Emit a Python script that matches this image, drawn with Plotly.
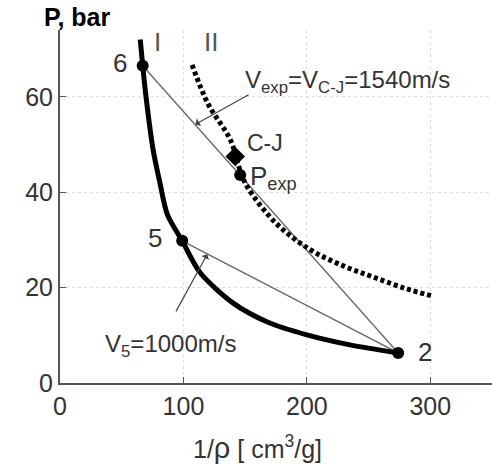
import plotly.graph_objects as go

# Curve I (solid isentrope)
curve1_v = [65, 67, 70, 75.5, 81, 87, 99, 113.6, 140, 168, 200, 235, 274]
curve1_p = [72, 66.5, 59.3, 48.8, 41.9, 35.3, 29.8, 23.1, 16.8, 12.8, 10.1, 8.0, 6.3]
# Curve II (dotted)
curve2_v = [107, 120, 138, 146, 152, 175, 203, 230, 254, 280, 302]
curve2_p = [66.7, 58.5, 51, 44.5, 41, 33.5, 27.9, 24.5, 22.2, 19.8, 18.2]
# States
pt_labels = ["6", "5", "2"]
pt_v = [67, 99, 274]
pt_p = [66.5, 29.8, 6.3]
cj_v, cj_p = [142], [47.5]
pexp_v, pexp_p = [146], [43.6]

x_ticks = [0, 100, 200, 300]
y_ticks = [0, 20, 40, 60]

FONT = "Liberation Sans, Arial, sans-serif"

fig = go.Figure()
# Rayleigh lines
fig.add_trace(go.Scatter(x=[pt_v[0], pt_v[2]], y=[pt_p[0], pt_p[2]], mode="lines",
                         line=dict(color="#666", width=1.3), showlegend=False))
fig.add_trace(go.Scatter(x=[pt_v[1], pt_v[2]], y=[pt_p[1], pt_p[2]], mode="lines",
                         line=dict(color="#666", width=1.3), showlegend=False))
fig.add_trace(go.Scatter(x=curve2_v, y=curve2_p, mode="lines", line_shape="spline",
                         line=dict(color="black", width=5, dash="4px,3px"), showlegend=False))
fig.add_trace(go.Scatter(x=curve1_v, y=curve1_p, mode="lines", line_shape="spline",
                         line=dict(color="black", width=5, smoothing=0.8), showlegend=False))
fig.add_trace(go.Scatter(x=pt_v, y=pt_p, mode="markers",
                         marker=dict(color="black", size=12), showlegend=False))
fig.add_trace(go.Scatter(x=cj_v, y=cj_p, mode="markers",
                         marker=dict(color="black", size=15, symbol="diamond"), showlegend=False))
fig.add_trace(go.Scatter(x=pexp_v, y=pexp_p, mode="markers",
                         marker=dict(color="black", size=12), showlegend=False))

tf = dict(family=FONT, size=25, color="#333")
ann = []
def txt(x, y, t, size=26, xanchor="center", color="#333"):
    ann.append(dict(x=x, y=y, xref="x", yref="y", text=t, showarrow=False,
                    xanchor=xanchor, yanchor="middle",
                    font=dict(family=FONT, size=size, color=color)))

txt(48.7, 67, "6")
txt(77, 30.3, "5")
txt(295.5, 6.6, "2")
txt(78.7, 71.5, "I", size=26, color="#555")
txt(122, 71.5, "II", size=26, color="#555")
txt(150, 50.3, "C-J", size=23, xanchor="left")
txt(152, 43.0, "P<sub>exp</sub>", size=26, xanchor="left")
txt(148.5, 63.3, "V<sub>exp</sub>=V<sub>C-J</sub>=1540m/s", size=24, xanchor="left")
txt(35, 7.8, "V<sub>5</sub>=1000m/s", size=24, xanchor="left")

# arrows
ann.append(dict(x=109.6, y=54.2, ax=154, ay=60.6, xref="x", yref="y", axref="x", ayref="y",
                text="", showarrow=True, arrowhead=1, arrowsize=1.2, arrowwidth=1.2, arrowcolor="#444"))
ann.append(dict(x=119.3, y=27.0, ax=93.3, ay=14.7, xref="x", yref="y", axref="x", ayref="y",
                text="", showarrow=True, arrowhead=1, arrowsize=1.2, arrowwidth=1.2, arrowcolor="#444"))

# title and axis title
ann.append(dict(x=-0.042, y=1, xref="paper", yref="paper", yanchor="bottom", xanchor="left", yshift=-3,
                text="<b>P, bar</b>", showarrow=False,
                font=dict(family=FONT, size=25, color="black")))
ann.append(dict(x=160, y=0, xref="x", yref="paper", yanchor="top", xanchor="center", yshift=-46,
                text="1/<span style='font-size:29px'>ρ</span> [ cm<sup>3</sup>/g]", showarrow=False,
                font=dict(family=FONT, size=25, color="#333")))

fig.update_layout(
    width=492, height=467, margin=dict(l=60, r=0, t=30, b=84),
    plot_bgcolor="white", paper_bgcolor="white", annotations=ann,
    xaxis=dict(range=[0, 350], tickvals=x_ticks, ticks="inside", ticklen=6, tickcolor="#555",
               showline=True, linecolor="#555", linewidth=2, showgrid=True, gridcolor="#ddd",
               griddash="dot", zeroline=False, tickfont=tf),
    yaxis=dict(range=[0, 74], tickvals=y_ticks, ticks="inside", ticklen=6, tickcolor="#555",
               showline=True, linecolor="#555", linewidth=2, showgrid=True, gridcolor="#ddd",
               griddash="dot", zeroline=False, tickfont=tf),
)
fig.write_html("out.html")
